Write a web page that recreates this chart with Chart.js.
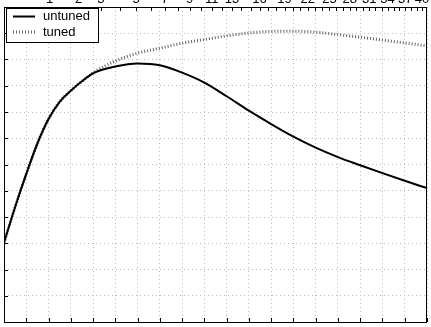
<!DOCTYPE html>
<html>
<head>
<meta charset="utf-8">
<script src="https://cdn.jsdelivr.net/npm/chart.js@4/dist/chart.umd.min.js"></script>
<style>
  html, body { margin: 0; padding: 0; background: #fff; overflow: hidden; }
  #wrap { position: relative; width: 431px; height: 327px; }
</style>
</head>
<body>
<div id="wrap"><canvas id="chart" width="431" height="327"></canvas></div>
<script>
// values (bottom axis 0..19, left axis 0..12)
const xValues = [0, 0.5, 1, 1.5, 2, 2.5, 3, 3.5, 4, 5, 6, 7, 8, 9, 10, 11, 12, 13, 14, 15, 16, 17, 18, 19]
const untuned = [3.02, 4.38, 5.64, 6.80, 7.73, 8.39, 8.81, 9.17, 9.47, 9.73, 9.85, 9.78, 9.50, 9.12, 8.60, 8.05, 7.54, 7.06, 6.64, 6.28, 5.97, 5.67, 5.38, 5.10]
const tuned = [3.02, 4.38, 5.64, 6.80, 7.73, 8.39, 8.81, 9.17, 9.49, 9.94, 10.24, 10.43, 10.62, 10.76, 10.90, 11.01, 11.07, 11.08, 11.04, 10.95, 10.85, 10.74, 10.63, 10.52]

// top axis: ticks at every n, labels only at some of them
const topTickN = Array.from({ length: 40 }, (_, i) => i + 1)
const topLabelN = [1, 2, 3, 5, 7, 9, 11, 13, 16, 19, 22, 25, 28, 31, 34, 37, 40]
const topPos = n => Math.PI * Math.sqrt(n) - 1.09

const FONT = '"Liberation Sans", Arial, sans-serif'
const TICK = 4

// frame, inward tick marks and the boxed legend
const frameAndLegend = {
	id: 'frameAndLegend',
	afterDatasetsDraw(chart) {
		const { ctx, chartArea: a, scales } = chart
		ctx.save()
		ctx.strokeStyle = '#000'
		ctx.lineWidth = 1
		ctx.setLineDash([])
		ctx.beginPath()
		scales.x.ticks.forEach(t => {
			const px = Math.round(scales.x.getPixelForValue(t.value)) + 0.5
			ctx.moveTo(px, a.bottom)
			ctx.lineTo(px, a.bottom - TICK)
		})
		scales.y.ticks.forEach(t => {
			const py = Math.round(scales.y.getPixelForValue(t.value)) + 0.5
			ctx.moveTo(a.left, py)
			ctx.lineTo(a.left + TICK, py)
		})
		scales.xTop.ticks.forEach(t => {
			const px = Math.round(scales.xTop.getPixelForValue(t.value)) + 0.5
			ctx.moveTo(px, a.top)
			ctx.lineTo(px, a.top + TICK)
		})
		ctx.stroke()
		ctx.strokeRect(a.left + 0.5, a.top + 0.5, a.right - a.left - 1, a.bottom - a.top)

		// legend box
		const lx = a.left + 2, ly = a.top + 1, lw = 92, lh = 34
		ctx.fillStyle = '#fff'
		ctx.fillRect(lx, ly, lw, lh)
		ctx.strokeRect(lx + 0.5, ly + 0.5, lw, lh)
		ctx.font = '13px ' + FONT
		ctx.textBaseline = 'middle'
		chart.data.datasets.forEach((ds, i) => {
			const yy = ly + 8.5 + i * 15.5
			ctx.save()
			ctx.strokeStyle = ds.borderColor
			ctx.lineWidth = ds.borderWidth
			ctx.setLineDash(ds.borderDash || [])
			ctx.beginPath()
			ctx.moveTo(lx + 7, yy)
			ctx.lineTo(lx + 29, yy)
			ctx.stroke()
			ctx.restore()
			ctx.fillStyle = '#000'
			ctx.fillText(ds.label, lx + 37, yy)
		})
		ctx.restore()
	}
}

const gridOpts = { color: '#bdbdbd', lineWidth: 1, drawTicks: false }

new Chart(document.getElementById('chart'), {
	type: 'line',
	data: {
		datasets: [
			{
				label: 'untuned',
				data: xValues.map((x, i) => ({ x, y: untuned[i] })),
				borderColor: '#000',
				borderWidth: 2,
				pointRadius: 0,
				cubicInterpolationMode: 'monotone'
			},
			{
				label: 'tuned',
				data: xValues.map((x, i) => ({ x, y: tuned[i] })),
				borderColor: '#666',
				borderWidth: 3,
				borderDash: [1, 2],
				pointRadius: 0,
				cubicInterpolationMode: 'monotone'
			}
		]
	},
	options: {
		responsive: false,
		animation: false,
		devicePixelRatio: 1,
		layout: { padding: { left: 0, right: 4, top: 0, bottom: 0 } },
		plugins: { legend: { display: false }, tooltip: { enabled: false } },
		scales: {
			x: {
				type: 'linear', position: 'bottom', min: 0, max: 19,
				ticks: { display: false, stepSize: 1 },
				grid: gridOpts,
				border: { display: false, dash: [1, 3] },
				afterFit: s => { s.height = 5 }
			},
			xTop: {
				type: 'linear', position: 'top', min: 0, max: 19,
				grid: { display: false, drawTicks: false },
				border: { display: false },
				ticks: {
					autoSkip: false, maxRotation: 0, minRotation: 0, padding: 0,
					color: '#000',
					font: { family: FONT, size: 13 },
					callback: (v, i) => topLabelN.includes(topTickN[i]) ? String(topTickN[i]) : ''
				},
				afterBuildTicks: s => { s.ticks = topTickN.map(n => ({ value: topPos(n) })) },
				afterFit: s => { s.height = 7 }
			},
			y: {
				type: 'linear', min: 0, max: 12,
				ticks: { display: false, stepSize: 1 },
				grid: gridOpts,
				border: { display: false, dash: [1, 3] },
				afterFit: s => { s.width = 4 }
			}
		}
	},
	plugins: [frameAndLegend]
})
</script>
</body>
</html>
